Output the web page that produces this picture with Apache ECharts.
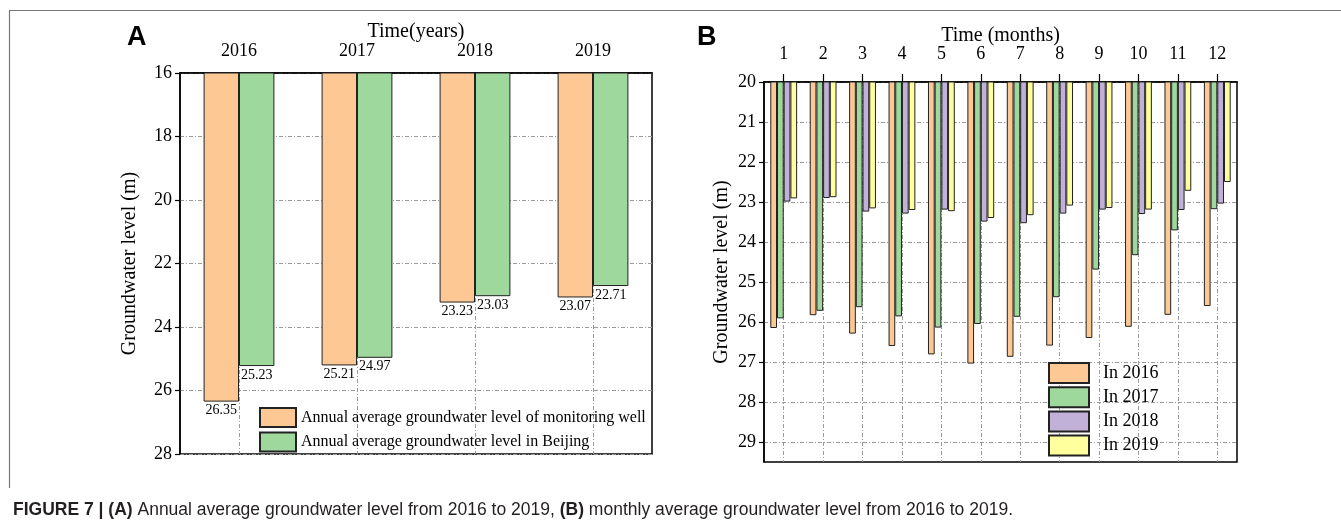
<!DOCTYPE html>
<html><head><meta charset="utf-8">
<script src="https://cdn.jsdelivr.net/npm/echarts@6/dist/echarts.min.js"></script>
<style>html,body{margin:0;padding:0;background:#fff}#c{width:1341px;height:523px}</style>
</head><body><div id="c"></div>
<script>
// ---- Data ----
const yearCats = ['2016', '2017', '2018', '2019'];
const wellAnnual = [26.35, 25.21, 23.23, 23.07];
const beijingAnnual = [25.23, 24.97, 23.03, 22.71];

const monthCats = ['1','2','3','4','5','6','7','8','9','10','11','12'];
const m2016 = [26.15, 25.83, 26.29, 26.60, 26.81, 27.04, 26.87, 26.59, 26.40, 26.12, 25.82, 25.60];
const m2017 = [25.91, 25.72, 25.63, 25.86, 26.14, 26.05, 25.87, 25.38, 24.69, 24.33, 23.71, 23.18];
const m2018 = [22.99, 22.90, 23.24, 23.29, 23.19, 23.49, 23.53, 23.29, 23.19, 23.30, 23.20, 23.04];
const m2019 = [22.91, 22.88, 23.16, 23.20, 23.23, 23.40, 23.33, 23.09, 23.15, 23.19, 22.72, 22.50];

const yTicksB = [20, 21, 22, 23, 24, 25, 26, 27, 28, 29];

const nameWell = 'Annual average groundwater level of monitoring well';
const nameBJ = 'Annual average groundwater level in Beijing';
const yearNames = ['In 2016', 'In 2017', 'In 2018', 'In 2019'];

// ---- Styles ----
const SERIF = '"Liberation Serif", "Times New Roman", serif';
const SANS = '"Liberation Sans", Arial, sans-serif';
const C_OR = '#FDC894', C_GR = '#9ED89C', C_PU = '#C1B1D9', C_YE = '#FFFF9E';
const gridLine = { show: true, lineStyle: { color: '#9a9a9a', width: 1, type: [4, 2, 1, 2] } };
const axLine = { show: true, lineStyle: { color: '#000', width: 1.5 } };
const txt = (s) => ({ fontSize: s, fontFamily: SERIF, color: '#000' });

const chart = echarts.init(document.getElementById('c'), null, { renderer: 'canvas' });

const barStyle = (c) => ({ color: c, borderColor: '#222', borderWidth: 1 });

const option = {
  backgroundColor: '#fff',
  animation: false,
  grid: [
    { left: 180, top: 73, width: 472, height: 381, show: true, borderColor: '#000', borderWidth: 1.5, backgroundColor: 'transparent' },
    { left: 764, top: 82, width: 473, height: 380, show: true, borderColor: '#000', borderWidth: 1.5, backgroundColor: 'transparent' }
  ],
  xAxis: [
    {
      gridIndex: 0, type: 'category', data: yearCats, position: 'top',
      name: 'Time(years)', nameLocation: 'middle', nameGap: 31, nameMoveOverlap: false, nameTextStyle: txt(20),
      axisLine: axLine, axisTick: { show: false },
      axisLabel: Object.assign({ margin: 13 }, txt(18)),
      splitLine: Object.assign({ alignWithLabel: true }, gridLine)
    },
    {
      gridIndex: 1, type: 'category', data: monthCats, position: 'top',
      name: 'Time (months)', nameLocation: 'middle', nameGap: 36, nameMoveOverlap: false, nameTextStyle: txt(20),
      axisLine: axLine,
      axisTick: { show: true, alignWithLabel: true, length: 8, inside: false, lineStyle: { color: '#000', width: 1.2 } },
      axisLabel: Object.assign({ margin: 19 }, txt(18)),
      splitLine: Object.assign({ alignWithLabel: true }, gridLine)
    }
  ],
  yAxis: [
    {
      gridIndex: 0, type: 'value', inverse: true, min: 16, max: 28, interval: 2,
      name: 'Groundwater level (m)', nameLocation: 'middle', nameGap: 40, nameTextStyle: txt(20),
      axisLine: axLine,
      axisTick: { show: true, length: 5, inside: false, lineStyle: { color: '#000', width: 1.2 } },
      axisLabel: Object.assign({ margin: 8 }, txt(18)),
      splitLine: gridLine
    },
    {
      gridIndex: 1, type: 'value', inverse: true, min: 20, max: 29.5, interval: 1,
      name: 'Groundwater level (m)', nameLocation: 'middle', nameGap: 32, nameTextStyle: txt(20),
      axisLine: axLine,
      axisTick: { show: true, length: 5, inside: false, customValues: yTicksB, lineStyle: { color: '#000', width: 1.2 } },
      axisLabel: Object.assign({ margin: 8, customValues: yTicksB }, txt(18)),
      splitLine: gridLine
    }
  ],
  legend: [
    {
      data: [nameWell, nameBJ], orient: 'vertical', left: 259, top: 407, padding: 0,
      itemWidth: 36, itemHeight: 19, itemGap: 3.6, icon: 'rect', selectedMode: false,
      textStyle: Object.assign({ lineHeight: 19 }, txt(16))
    },
    {
      data: yearNames, orient: 'vertical', left: 1048, top: 362, padding: 0,
      itemWidth: 40, itemHeight: 20, itemGap: 2.2, icon: 'rect', selectedMode: false,
      textStyle: Object.assign({ padding: [0, 0, 0, 9], lineHeight: 20 }, txt(18))
    }
  ],
  series: [
    {
      name: nameWell, type: 'bar', xAxisIndex: 0, yAxisIndex: 0, data: wellAnnual,
      barWidth: '30%', barGap: '0%', itemStyle: barStyle(C_OR),
      label: Object.assign({ show: true, position: 'bottom', distance: 2, formatter: (p) => p.value.toFixed(2) }, txt(14))
    },
    {
      name: nameBJ, type: 'bar', xAxisIndex: 0, yAxisIndex: 0, data: beijingAnnual,
      barWidth: '30%', barGap: '0%', itemStyle: barStyle(C_GR),
      label: Object.assign({ show: true, position: 'bottom', distance: 2, formatter: (p) => p.value.toFixed(2) }, txt(14))
    },
    { name: yearNames[0], type: 'bar', xAxisIndex: 1, yAxisIndex: 1, data: m2016, barWidth: '17%', barGap: '0%', itemStyle: barStyle(C_OR) },
    { name: yearNames[1], type: 'bar', xAxisIndex: 1, yAxisIndex: 1, data: m2017, barWidth: '17%', barGap: '0%', itemStyle: barStyle(C_GR) },
    { name: yearNames[2], type: 'bar', xAxisIndex: 1, yAxisIndex: 1, data: m2018, barWidth: '17%', barGap: '0%', itemStyle: barStyle(C_PU) },
    { name: yearNames[3], type: 'bar', xAxisIndex: 1, yAxisIndex: 1, data: m2019, barWidth: '17%', barGap: '0%', itemStyle: barStyle(C_YE) }
  ],
  graphic: [
    { type: 'line', shape: { x1: 9, y1: 10.5, x2: 1341, y2: 10.5 }, style: { stroke: '#777', lineWidth: 1.2 } },
    { type: 'line', shape: { x1: 9.5, y1: 10, x2: 9.5, y2: 488 }, style: { stroke: '#777', lineWidth: 1.2 } },
    { type: 'text', left: 127, top: 24, style: { text: 'A', font: 'bold 27px ' + SANS, fill: '#000' } },
    { type: 'text', left: 697, top: 24, style: { text: 'B', font: 'bold 27px ' + SANS, fill: '#000' } },
    {
      type: 'text', left: 13, top: 501,
      style: {
        text: '{b|FIGURE 7 | (A)} Annual average groundwater level from 2016 to 2019, {b|(B)} monthly average groundwater level from 2016 to 2019.',
        font: '17.5px ' + SANS, fill: '#231f20',
        rich: { b: { fontWeight: 'bold', fontFamily: SANS, fontSize: 17.5, fill: '#231f20' } }
      }
    }
  ]
};
chart.setOption(option);
</script>
</body></html>
